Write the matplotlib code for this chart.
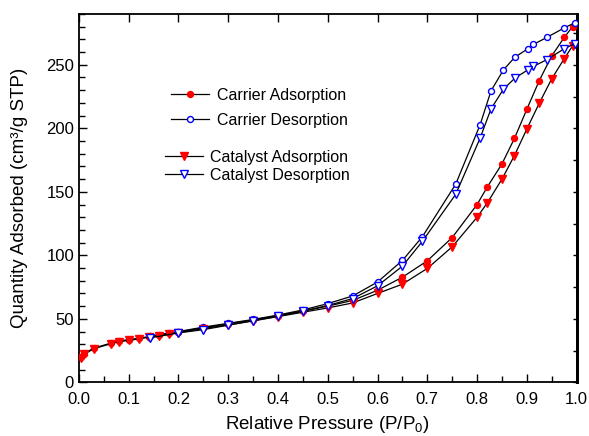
import numpy as np
import matplotlib
matplotlib.use('Agg')
import matplotlib.pyplot as plt
from matplotlib.ticker import MultipleLocator

plt.rcParams['font.family'] = ['Liberation Sans', 'DejaVu Sans']
plt.rcParams['mathtext.fontset'] = 'custom'
plt.rcParams['mathtext.rm'] = 'Liberation Sans'

# Data
ads_p = [0.005, 0.01, 0.03, 0.065, 0.08, 0.10, 0.12, 0.14, 0.16, 0.18, 0.20,
         0.25, 0.30, 0.35, 0.40, 0.45, 0.50, 0.55, 0.60, 0.65, 0.70, 0.75,
         0.80, 0.82, 0.85, 0.875, 0.90, 0.925, 0.95, 0.975, 0.992]
carrier_ads = [20.0, 22.6, 27.0, 31.0, 32.5, 33.7, 34.7, 36.0, 37.3, 38.6, 39.7,
               43.0, 46.0, 49.2, 52.6, 56.2, 60.0, 64.5, 72.5, 82.8, 95.7, 114.0,
               140.0, 153.5, 172.0, 192.0, 215.0, 237.6, 257.0, 271.5, 280.0]
catalyst_ads = [19.5, 22.0, 26.5, 30.5, 32.0, 33.0, 34.2, 35.5, 36.8, 38.0, 39.2,
                42.3, 45.3, 48.4, 51.8, 55.2, 58.6, 62.5, 70.0, 77.3, 89.7, 106.7,
                130.0, 141.0, 160.0, 178.5, 199.5, 219.8, 239.0, 254.7, 265.0]

des_p = [0.996, 0.975, 0.94, 0.913, 0.902, 0.876, 0.853, 0.828, 0.806, 0.757,
         0.69, 0.65, 0.60, 0.55, 0.50, 0.45, 0.40, 0.35, 0.30, 0.25, 0.20, 0.143]
carrier_des = [283.0, 279.0, 271.5, 266.0, 262.6, 256.0, 246.0, 229.5, 202.7, 156.0,
               114.6, 96.0, 79.0, 68.0, 62.0, 57.0, 53.0, 49.5, 46.5, 43.5, 40.0, 36.3]
catalyst_des = [266.6, 262.6, 254.0, 248.7, 246.0, 239.5, 230.8, 215.3, 192.2, 148.0,
                111.0, 91.5, 76.0, 66.0, 60.5, 56.0, 52.0, 48.5, 45.0, 41.5, 38.9, 35.0]

fig = plt.figure(figsize=(5.89, 4.36), dpi=100)
ax = fig.add_axes([0.134, 0.123, 0.845, 0.845])

l1, = ax.plot(ads_p, carrier_ads, color='black', lw=0.9, marker='o', ms=4.3,
              mfc='red', mec='red', label='Carrier Adsorption', zorder=3)
l2, = ax.plot(des_p, carrier_des, color='black', lw=0.9, marker='o', ms=4.3,
              mfc='white', mec='blue', mew=1.0, label='Carrier Desorption', zorder=3)
l3, = ax.plot(ads_p, catalyst_ads, color='black', lw=0.9, marker='v', ms=5.2,
              mfc='red', mec='red', label='Catalyst Adsorption', zorder=3)
l4, = ax.plot(des_p, catalyst_des, color='black', lw=0.9, marker='v', ms=5.2,
              mfc='white', mec='blue', mew=1.0, label='Catalyst Desorption', zorder=3)

ax.set_xlim(0, 1.0)
ax.set_ylim(0, 290)
ax.xaxis.set_major_locator(MultipleLocator(0.1))
ax.xaxis.set_minor_locator(MultipleLocator(0.05))
ax.yaxis.set_major_locator(MultipleLocator(50))
ax.yaxis.set_minor_locator(MultipleLocator(10))
ax.xaxis.set_major_formatter(plt.FormatStrFormatter('%.1f'))
ax.tick_params(which='both', direction='in', labelsize=12, width=1.0)
ax.tick_params(which='major', length=6)
ax.tick_params(which='minor', length=4)
ax.tick_params(axis='x', which='major', top=True, pad=7)
ax.tick_params(axis='x', which='minor', top=False)
ax.tick_params(axis='y', which='both', right=False)
for s in ax.spines.values():
    s.set_linewidth(1.3)
ax.spines['right'].set_linewidth(2.0)

# right side ticks every 25, no labels
sec = ax.secondary_yaxis('right')
sec.yaxis.set_major_locator(MultipleLocator(25))
sec.tick_params(direction='in', length=3, width=1.0, labelright=False)
sec.spines['right'].set_linewidth(2.0)

ax.set_xlabel(r'Relative Pressure (P/P$_\mathregular{0}$)', fontsize=13.5, labelpad=5)
ax.set_ylabel('Quantity Adsorbed (cm³/g STP)', fontsize=13.5, labelpad=13)

leg1 = ax.legend(handles=[l1, l2], loc='upper left', bbox_to_anchor=(0.185, 0.80),
                 frameon=False, fontsize=11.5, handlelength=2.4, handletextpad=0.45,
                 labelspacing=0.65, borderpad=0, borderaxespad=0)
ax.add_artist(leg1)
ax.legend(handles=[l3, l4], loc='upper left', bbox_to_anchor=(0.172, 0.632),
          frameon=False, fontsize=11.5, handlelength=2.4, handletextpad=0.45,
          labelspacing=0.2, borderpad=0, borderaxespad=0)

fig.savefig('out.png', dpi=100)
